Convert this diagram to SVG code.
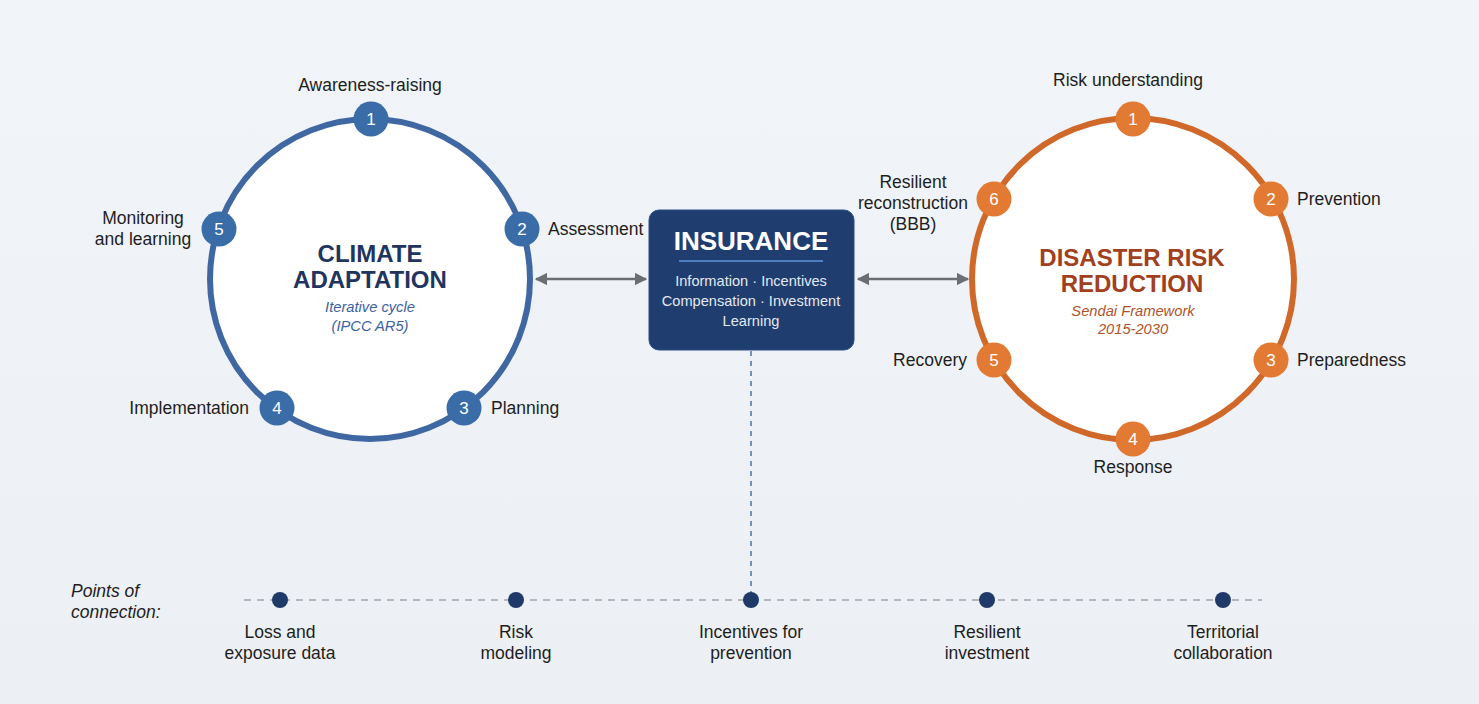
<svg xmlns="http://www.w3.org/2000/svg" width="1479" height="704" viewBox="0 0 1479 704">
<defs>
<linearGradient id="bg" x1="0" y1="0" x2="0" y2="1">
<stop offset="0" stop-color="#f1f4f8"/>
<stop offset="1" stop-color="#eceff3"/>
</linearGradient>
<marker id="ah" viewBox="0 0 10 10" refX="9" refY="5" markerWidth="5" markerHeight="5" orient="auto-start-reverse">
<path d="M0,0 L10,5 L0,10 z" fill="#6b6e72"/>
</marker>
<style>
text{font-family:"Liberation Sans",Arial,sans-serif}
.lbl{font-size:17.5px;fill:#1e1e1e}
.num{font-size:17px;fill:#ffffff;text-anchor:middle}
.bnode{fill:#3a6da8}
.onode{fill:#e27a34}
.dot{fill:#1f3a68}
.arrow{stroke:#6b6e72;stroke-width:2.5;fill:none}
</style>
</defs>
<rect width="1479" height="704" fill="url(#bg)"/>

<g id="connectors">
<line class="arrow" x1="536" y1="279" x2="646" y2="279" marker-start="url(#ah)" marker-end="url(#ah)"/>
<line class="arrow" x1="858" y1="279" x2="968" y2="279" marker-start="url(#ah)" marker-end="url(#ah)"/>
<line x1="751" y1="351" x2="751" y2="594" stroke="#4a72a8" stroke-width="1.5" stroke-dasharray="5,5"/>
<line x1="244" y1="600" x2="1262" y2="600" stroke="#b3b8bf" stroke-width="2" stroke-dasharray="7,6"/>
</g>

<g id="climate-adaptation">
<circle cx="370" cy="279" r="160" fill="#ffffff" stroke="#3f68a3" stroke-width="6"/>
<text x="370" y="262" text-anchor="middle" font-size="24" font-weight="bold" fill="#1f3560">CLIMATE</text>
<text x="370" y="288" text-anchor="middle" font-size="24" font-weight="bold" fill="#1f3560">ADAPTATION</text>
<text x="370" y="312" text-anchor="middle" font-size="14.7" font-style="italic" fill="#3d62a0">Iterative cycle</text>
<text x="370" y="331" text-anchor="middle" font-size="14.7" font-style="italic" fill="#3d62a0">(IPCC AR5)</text>
</g>
<g id="ca-1"><circle class="bnode" cx="371" cy="119" r="17.5"/><text class="num" x="371" y="125">1</text><text class="lbl" x="370" y="91" text-anchor="middle">Awareness-raising</text></g>
<g id="ca-2"><circle class="bnode" cx="522" cy="229" r="17.5"/><text class="num" x="522" y="235">2</text><text class="lbl" x="548" y="235">Assessment</text></g>
<g id="ca-3"><circle class="bnode" cx="464" cy="408" r="17.5"/><text class="num" x="464" y="414">3</text><text class="lbl" x="491" y="414">Planning</text></g>
<g id="ca-4"><circle class="bnode" cx="277" cy="408" r="17.5"/><text class="num" x="277" y="414">4</text><text class="lbl" x="249" y="414" text-anchor="end">Implementation</text></g>
<g id="ca-5"><circle class="bnode" cx="219" cy="229" r="17.5"/><text class="num" x="219" y="235">5</text><text class="lbl" x="143" y="224" text-anchor="middle">Monitoring</text><text class="lbl" x="143" y="245" text-anchor="middle">and learning</text></g>

<g id="insurance">
<rect x="649" y="210" width="205" height="140" rx="10" fill="#1f3d6e" stroke="#2c4f86" stroke-width="1"/>
<text x="751" y="250" text-anchor="middle" font-size="26" font-weight="bold" fill="#ffffff">INSURANCE</text>
<line x1="679" y1="261" x2="823" y2="261" stroke="#4f7fc0" stroke-width="2"/>
<text x="751" y="286" text-anchor="middle" font-size="14.6" fill="#e3e8f0">Information · Incentives</text>
<text x="751" y="306" text-anchor="middle" font-size="14.6" fill="#e3e8f0">Compensation · Investment</text>
<text x="751" y="326" text-anchor="middle" font-size="14.6" fill="#e3e8f0">Learning</text>
</g>

<g id="disaster-risk-reduction">
<circle cx="1133" cy="279" r="161" fill="#ffffff" stroke="#d0682a" stroke-width="6"/>
<text x="1132" y="266" text-anchor="middle" font-size="24" font-weight="bold" fill="#a2401d">DISASTER RISK</text>
<text x="1132" y="292" text-anchor="middle" font-size="24" font-weight="bold" fill="#a2401d">REDUCTION</text>
<text x="1133" y="316" text-anchor="middle" font-size="14.7" font-style="italic" fill="#b0532a">Sendai Framework</text>
<text x="1133" y="334" text-anchor="middle" font-size="14.7" font-style="italic" fill="#b0532a">2015-2030</text>
</g>
<g id="drr-1"><circle class="onode" cx="1133" cy="119" r="17.5"/><text class="num" x="1133" y="125">1</text><text class="lbl" x="1128" y="86" text-anchor="middle">Risk understanding</text></g>
<g id="drr-2"><circle class="onode" cx="1271" cy="199" r="17.5"/><text class="num" x="1271" y="205">2</text><text class="lbl" x="1297" y="205">Prevention</text></g>
<g id="drr-3"><circle class="onode" cx="1271" cy="360" r="17.5"/><text class="num" x="1271" y="366">3</text><text class="lbl" x="1297" y="366">Preparedness</text></g>
<g id="drr-4"><circle class="onode" cx="1133" cy="439" r="17.5"/><text class="num" x="1133" y="445">4</text><text class="lbl" x="1133" y="473" text-anchor="middle">Response</text></g>
<g id="drr-5"><circle class="onode" cx="994" cy="360" r="17.5"/><text class="num" x="994" y="366">5</text><text class="lbl" x="967" y="366" text-anchor="end">Recovery</text></g>
<g id="drr-6"><circle class="onode" cx="994" cy="199" r="17.5"/><text class="num" x="994" y="205">6</text><text class="lbl" x="913" y="188" text-anchor="middle">Resilient</text><text class="lbl" x="913" y="209" text-anchor="middle">reconstruction</text><text class="lbl" x="913" y="230" text-anchor="middle">(BBB)</text></g>

<g id="points-label">
<text class="lbl" x="71" y="597" font-style="italic">Points of</text>
<text class="lbl" x="71" y="618" font-style="italic">connection:</text>
</g>
<g id="p1"><circle class="dot" cx="280" cy="600" r="8"/><text class="lbl" x="280" y="638" text-anchor="middle">Loss and</text><text class="lbl" x="280" y="659" text-anchor="middle">exposure data</text></g>
<g id="p2"><circle class="dot" cx="516" cy="600" r="8"/><text class="lbl" x="516" y="638" text-anchor="middle">Risk</text><text class="lbl" x="516" y="659" text-anchor="middle">modeling</text></g>
<g id="p3"><circle class="dot" cx="751" cy="600" r="8"/><text class="lbl" x="751" y="638" text-anchor="middle">Incentives for</text><text class="lbl" x="751" y="659" text-anchor="middle">prevention</text></g>
<g id="p4"><circle class="dot" cx="987" cy="600" r="8"/><text class="lbl" x="987" y="638" text-anchor="middle">Resilient</text><text class="lbl" x="987" y="659" text-anchor="middle">investment</text></g>
<g id="p5"><circle class="dot" cx="1223" cy="600" r="8"/><text class="lbl" x="1223" y="638" text-anchor="middle">Territorial</text><text class="lbl" x="1223" y="659" text-anchor="middle">collaboration</text></g>
</svg>
